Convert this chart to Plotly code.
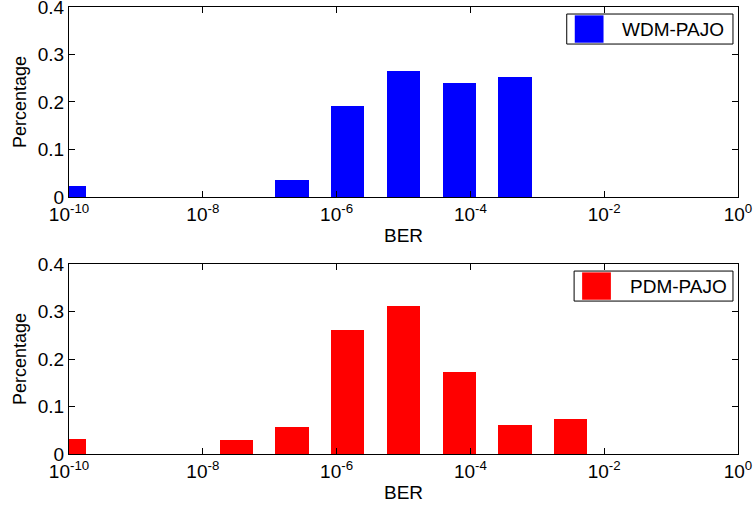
import numpy as np
import plotly.graph_objects as go
from plotly.subplots import make_subplots

# log10(BER) histogram: 12 equal bins spanning 1e-10 .. 1
n_bins = 12
bin_centers = -10 + np.arange(n_bins) * 10 / n_bins
bar_width = 0.5  # in decades

wdm_share = [0.024, 0, 0, 0, 0.035, 0.192, 0.266, 0.241, 0.252, 0, 0, 0]
pdm_share = [0.032, 0, 0, 0.030, 0.057, 0.262, 0.311, 0.173, 0.062, 0.073, 0, 0]

series = [("WDM-PAJO", wdm_share, "#0000FF"), ("PDM-PAJO", pdm_share, "#FF0000")]

x_tick_exp = [-10, -8, -6, -4, -2, 0]
x_tick_text = [f"10<sup>{e}</sup>" for e in x_tick_exp]
y_ticks = [0, 0.1, 0.2, 0.3, 0.4]
y_tick_text = ["0", "0.1", "0.2", "0.3", "0.4"]

FONT = "Arial, Liberation Sans, Helvetica, sans-serif"

fig = make_subplots(rows=2, cols=1, vertical_spacing=0.15)

for i, (name, vals, color) in enumerate(series, start=1):
    fig.add_trace(
        go.Bar(x=bin_centers, y=vals, width=bar_width, name=name,
               marker=dict(color=color, line=dict(width=0)), showlegend=False),
        row=i, col=1)
    fig.update_xaxes(range=[-10, 0], tickvals=x_tick_exp, ticktext=x_tick_text,
                     ticks="inside", ticklen=6, tickcolor="black", mirror="ticks",
                     showline=True, linecolor="black", linewidth=1, showgrid=False,
                     zeroline=False, automargin=False, ticklabeloverflow="allow",
                     title=dict(text="BER", standoff=4, font=dict(size=19, color="black")),
                     tickfont=dict(size=19, color="black"), row=i, col=1)
    fig.update_yaxes(range=[0, 0.4], tickvals=y_ticks, ticktext=y_tick_text,
                     ticks="inside", ticklen=6, tickcolor="black", mirror="ticks",
                     showline=True, linecolor="black", linewidth=1, showgrid=False,
                     zeroline=False, automargin=False, ticklabeloverflow="allow",
                     title=dict(text="Percentage", standoff=6, font=dict(size=18, color="black")),
                     tickfont=dict(size=19, color="black"), row=i, col=1)

    # legend box with a filled swatch
    xd, yd = ("x domain", "y domain") if i == 1 else ("x2 domain", "y2 domain")
    box_x0 = 0.744 if i == 1 else 0.755
    sw_x0 = 0.756 if i == 1 else 0.767
    fig.add_shape(type="rect", xref=xd, yref=yd, x0=box_x0, x1=0.9925, y0=0.805, y1=0.963,
                  line=dict(color="black", width=1), fillcolor="white")
    fig.add_shape(type="rect", xref=xd, yref=yd, x0=sw_x0, x1=sw_x0 + 0.043,
                  y0=0.812, y1=0.956, line=dict(width=0), fillcolor=color)
    fig.add_annotation(xref=xd, yref=yd, x=sw_x0 + 0.068, y=0.884, text=name,
                       showarrow=False, xanchor="left", yanchor="middle",
                       font=dict(size=19, color="black", family=FONT))

fig.update_layout(
    width=755, height=512,
    margin=dict(l=69, r=17, t=7, b=58, autoexpand=False),
    paper_bgcolor="white", plot_bgcolor="white",
    font=dict(family=FONT, color="black"),
    bargap=0,
)
fig.update_yaxes(domain=[0.575, 1.0], row=1, col=1)
fig.update_yaxes(domain=[0.0, 0.425], row=2, col=1)

fig.write_html("out.html")
